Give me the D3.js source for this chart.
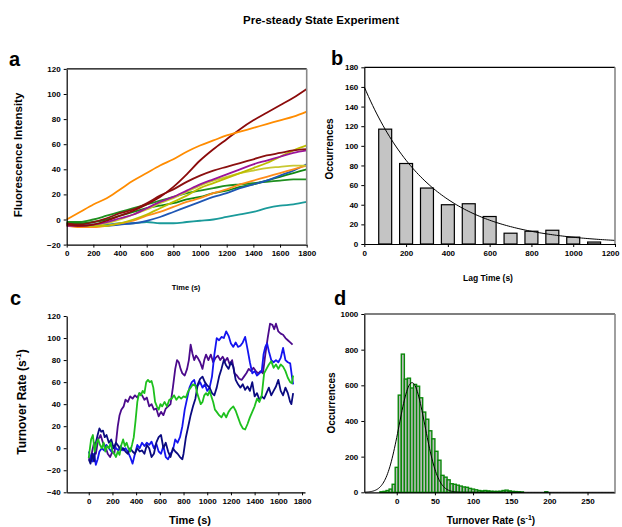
<!DOCTYPE html>
<html><head><meta charset="utf-8">
<script src="https://cdn.jsdelivr.net/npm/d3@7"></script>
<style>
body{margin:0;background:#fff;}
svg{display:block;font-family:"Liberation Sans",Arial,sans-serif;}
.tick text{font-weight:bold;fill:#000;}
</style></head>
<body><svg id="c" width="622" height="527"></svg>
<script>
// ---------- Panel a : fluorescence traces (value every 100 s) ----------
const aTime = [0,100,200,300,400,500,600,700,800,900,1000,1100,1200,1300,1400,1500,1600,1700,1800];
const aOrange1 = [0,6,12,17,24,31,37,43,48,54,59,63,67,70,73,76,79,82,86];
const aDarkRed1 = [-4,-5,-4,-1,3,7,12,18,26,36,47,56,64,72,79,85,91,97,104];
const aDarkRed2 = [-3,-4,-2,1,5,8,13,19,24,30,35,39,42,45,48,51,53,55,56];
const aMagenta = [-5,-5,-4,-2,1,4,9,14,18,23,28,32,36,40,44,47,50,53,55];
const aYellow1 = [-4,-5,-5,-5,-3,0,4,9,14,19,25,29,33,37,41,45,50,55,59];
const aYellow2 = [-4,-5,-5,-3,0,4,8,13,17,22,27,31,34,37,39,41,42,43,43];
const aOrange2 = [-5,-6,-6,-5,-3,-1,3,6,10,14,17,21,24,28,31,34,37,40,43];
const aBlue = [-4,-5,-5,-5,-4,-3,-1,2,6,10,14,18,21,25,28,31,35,39,44];
const aGreen1 = [-3,-3,-2,0,3,6,9,11,13,16,18,21,23,26,28,31,34,37,40];
const aGreen2 = [-2,-2,0,3,6,9,12,15,18,21,23,25,27,28,29,30,31,32,32];
const aTeal = [-3,-4,-4,-4,-3,-3,-2,-3,-3,-2,-1,0,2,4,6,9,11,12,14];
const aXTicks = [0,200,400,600,800,1000,1200,1400,1600,1800];
const aYTicks = [-20,0,20,40,60,80,100,120];

// ---------- Panel b : lag time histogram ----------
const bLag = [100,200,300,400,500,600,700,800,900,1000,1100];
const bCount = [117,82,57,40,41,28,11,13,14,7,2];
const bFitA = 160, bFitTau = 318;   // exponential fit parameters
const bXTicks = [0,200,400,600,800,1000,1200];
const bYTicks = [0,20,40,60,80,100,120,140,160,180];

// ---------- Panel c : turnover rate traces [time, rate] ----------
const cPurple = [[0,-8],[15,-12],[30,-2],[45,5],[60,-5],[80,8],[100,12],[120,5],[140,2],[160,-5],[180,-8],[200,-3],[215,-5],[230,5],[245,20],[260,30],[275,35],[295,38],[310,44],[330,42],[350,47],[370,45],[390,48],[410,46],[430,50],[450,48],[470,44],[490,46],[510,38],[530,40],[550,35],[570,36],[590,29],[610,33],[630,30],[650,36],[670,38],[690,40],[710,55],[730,72],[745,80],[760,78],[775,72],[790,68],[810,66],[830,72],[845,80],[860,94],[875,86],[890,80],[905,84],[920,82],[940,78],[960,72],[975,80],[990,85],[1010,80],[1030,85],[1050,78],[1070,82],[1090,84],[1110,80],[1130,83],[1150,79],[1170,82],[1190,76],[1210,80],[1230,68],[1250,66],[1270,63],[1290,62],[1310,65],[1330,68],[1350,72],[1370,70],[1390,73],[1410,70],[1430,68],[1450,70],[1470,68],[1490,85],[1510,100],[1530,113],[1550,112],[1565,108],[1580,113],[1600,106],[1620,104],[1640,103],[1660,100],[1680,98],[1700,96],[1720,94]];
const cBlue = [[0,-3],[15,-8],[30,-12],[45,-5],[60,-15],[75,-10],[90,-3],[110,0],[130,-2],[150,3],[170,0],[190,-3],[210,2],[230,0],[250,-2],[270,2],[290,-2],[310,0],[330,-3],[350,-8],[370,-14],[390,-5],[410,3],[430,0],[450,5],[470,2],[490,5],[510,3],[530,6],[550,0],[570,4],[590,-3],[610,-5],[630,2],[650,-8],[670,-10],[690,-5],[710,-2],[730,8],[750,5],[770,10],[790,20],[810,35],[830,45],[850,55],[870,60],[890,62],[905,55],[920,57],[940,60],[960,55],[980,58],[1000,52],[1020,55],[1040,65],[1060,85],[1080,100],[1100,98],[1120,101],[1140,100],[1160,106],[1180,102],[1200,95],[1220,92],[1240,96],[1260,92],[1280,93],[1300,96],[1320,101],[1340,90],[1360,78],[1380,68],[1400,70],[1420,66],[1440,68],[1460,70],[1475,85],[1490,92],[1505,95],[1520,88],[1540,80],[1560,78],[1580,80],[1600,78],[1620,82],[1640,91],[1660,80],[1680,78],[1700,77],[1715,65],[1725,58]];
const cNavy = [[0,-10],[15,-14],[30,-5],[45,-12],[60,5],[75,12],[90,18],[105,15],[120,16],[135,10],[150,12],[170,5],[190,8],[210,0],[230,5],[250,2],[270,-2],[290,0],[310,-3],[330,-5],[350,0],[370,-3],[390,-5],[410,0],[430,-3],[450,-2],[470,-5],[490,3],[510,0],[530,-8],[550,-5],[570,5],[590,10],[610,12],[630,0],[650,5],[670,-3],[690,-8],[710,0],[730,-3],[750,-5],[770,-8],[790,-10],[800,-5],[820,10],[840,20],[860,30],[880,38],[900,45],[920,58],[940,63],[960,65],[980,60],[1000,57],[1020,55],[1040,50],[1060,48],[1080,55],[1100,65],[1120,72],[1140,80],[1160,75],[1180,72],[1200,78],[1220,74],[1240,62],[1260,58],[1280,55],[1300,58],[1320,53],[1340,56],[1360,52],[1380,60],[1400,47],[1420,50],[1440,44],[1460,47],[1480,45],[1500,50],[1520,55],[1540,48],[1560,52],[1580,56],[1600,62],[1620,52],[1640,48],[1660,55],[1680,50],[1700,42],[1710,40],[1725,50]];
const cGreen = [[0,-9],[10,0],[20,8],[35,12],[50,-3],[65,5],[80,8],[95,3],[110,0],[125,5],[140,-3],[155,2],[170,0],[185,5],[200,-3],[215,-5],[230,-8],[245,-3],[260,-6],[275,3],[290,8],[305,2],[320,5],[335,0],[350,-3],[365,3],[380,10],[395,25],[410,42],[425,50],[440,48],[455,52],[470,50],[485,60],[500,62],[515,60],[530,61],[545,55],[560,42],[575,38],[590,35],[605,40],[620,38],[640,42],[660,38],[680,44],[700,45],[720,48],[740,44],[760,47],[780,45],[800,47],[820,46],[840,52],[860,55],[880,58],[900,57],[915,50],[930,45],[945,40],[960,42],[975,48],[990,50],[1005,48],[1020,52],[1035,47],[1050,42],[1065,35],[1080,33],[1100,30],[1120,28],[1140,32],[1160,28],[1180,33],[1200,36],[1220,38],[1240,34],[1260,28],[1280,22],[1300,18],[1320,17],[1340,22],[1360,28],[1380,33],[1400,38],[1420,45],[1440,42],[1460,48],[1470,58],[1480,68],[1500,72],[1520,76],[1540,79],[1560,73],[1580,76],[1600,72],[1620,76],[1640,74],[1660,70],[1680,64],[1700,60],[1715,59],[1725,66]];
const cXTicks = [0,200,400,600,800,1000,1200,1400,1600,1800];
const cYTicks = [-40,-20,0,20,40,60,80,100,120];

// ---------- Panel d : turnover rate histogram (bin width 4) ----------
const dBinStart = [-22,-18,-14,-10,-6,-2,2,6,10,14,18,22,26,30,34,38,42,46,50,54,58,62,66,70,74,78,82,86,90,94,98,102,106,110,114,118,122,126,130,134,138,142,146,150,154,158,162,194];
const dCount = [3,5,10,18,45,140,545,775,635,640,585,605,595,530,450,410,345,300,230,180,95,85,70,48,45,40,35,30,28,22,18,14,10,8,10,8,6,5,5,6,10,12,8,5,4,3,2,3];
const dBinWidth = 4;
const dFitA = 615, dFitMu = 20, dFitSigma = 17;   // gaussian fit parameters
const dXTicks = [0,50,100,150,200,250];
const dYTicks = [0,200,400,600,800,1000];

const svg = d3.select('#c');
svg.append('rect').attr('width',622).attr('height',527).attr('fill','#fff');
const F = '"Liberation Sans",Arial,sans-serif';
const fmt = d3.format('d');

svg.append('text').attr('x',321).attr('y',24).attr('text-anchor','middle')
  .attr('font-size',11.5).attr('font-weight','bold').text('Pre-steady State Experiment');

function axes(x, y, xt, yt, frame){
  const g = svg.append('g');
  g.append('g').attr('transform',`translate(0,${y.range()[0]})`)
    .call(d3.axisBottom(x).tickValues(xt).tickFormat(fmt).tickSize(3).tickSizeOuter(0).tickPadding(3))
    .call(s=>s.selectAll('text').attr('font-size',8).attr('font-family',F));
  g.append('g').attr('transform',`translate(${x.range()[0]},0)`)
    .call(d3.axisLeft(y).tickValues(yt).tickFormat(fmt).tickSize(3).tickSizeOuter(0).tickPadding(3))
    .call(s=>s.selectAll('text').attr('font-size',8).attr('font-family',F));
  g.selectAll('.domain').attr('stroke','#000').attr('stroke-width',1.2);
  if(frame){
    g.append('line').attr('x1',x.range()[0]).attr('x2',x.range()[1]).attr('y1',y.range()[1]).attr('y2',y.range()[1]).attr('stroke','#000').attr('stroke-width',1.2);
    g.append('line').attr('x1',x.range()[1]).attr('x2',x.range()[1]).attr('y1',y.range()[1]).attr('y2',y.range()[0]).attr('stroke','#888').attr('stroke-width',1.6);
  }
  return g;
}
function label(txt,x,y){
  svg.append('text').attr('x',x).attr('y',y).attr('font-size',20).attr('font-weight','bold').text(txt);
}
function ytitle(x,y,size,build){
  const t = svg.append('text').attr('transform',`translate(${x},${y}) rotate(-90)`).attr('text-anchor','middle')
    .attr('font-size',size).attr('font-weight','bold');
  build(t);
}
function xtitle(x,y,size,build){
  const t = svg.append('text').attr('x',x).attr('y',y).attr('text-anchor','middle')
    .attr('font-size',size).attr('font-weight','bold');
  build(t);
}

// ----- Panel a -----
{
  const x = d3.scaleLinear().domain([0,1800]).range([66.7,306.7]);
  const y = d3.scaleLinear().domain([-20,120]).range([244.6,68.9]);
  const series = [
    [aTeal,'#1a9a9a'],[aGreen2,'#1f8f1f'],[aGreen1,'#118811'],[aBlue,'#1f56b4'],[aOrange2,'#ff8c1a'],
    [aYellow2,'#c8c832'],[aYellow1,'#bdbd00'],[aMagenta,'#9b159b'],[aDarkRed2,'#8b1010'],[aDarkRed1,'#8b0a0a'],[aOrange1,'#ff8c00']];
  const line = d3.line().x((d,i)=>x(aTime[i])).y(d=>y(d)).curve(d3.curveMonotoneX);
  series.forEach(([v,c])=>svg.append('path').attr('d',line(v)).attr('fill','none').attr('stroke',c).attr('stroke-width',1.8));
  axes(x,y,aXTicks,aYTicks,true);
  label('a',9,66);
  ytitle(22,155,11.5,t=>t.text('Fluorescence Intensity'));
  xtitle(186,290,7.5,t=>t.text('Time (s)'));
}
// ----- Panel b -----
{
  const x = d3.scaleLinear().domain([0,1200]).range([364.3,615]);
  const y = d3.scaleLinear().domain([0,180]).range([244,67.3]);
  const bw = x(62)-x(0);
  svg.append('g').selectAll('rect').data(bLag).join('rect')
    .attr('x',(d)=>x(d)-bw/2).attr('width',bw)
    .attr('y',(d,i)=>y(bCount[i])).attr('height',(d,i)=>y(0)-y(bCount[i]))
    .attr('fill','#c4c4c4').attr('stroke','#000').attr('stroke-width',1.2);
  const fx = d3.range(0,1201,10);
  svg.append('path').attr('d',d3.line().x(d=>x(d)).y(d=>y(bFitA*Math.exp(-d/bFitTau)))(fx))
    .attr('fill','none').attr('stroke','#000').attr('stroke-width',1);
  const g = axes(x,y,bXTicks,bYTicks,true);
  // keep the last tick label inside the picture
  g.selectAll('.tick text').filter(d=>d===1200).attr('text-anchor','end').attr('dx','4');
  label('b',331,65);
  ytitle(333,149,10,t=>t.text('Occurrences'));
  xtitle(488,281,8.5,t=>t.text('Lag Time (s)'));
}
// ----- Panel c -----
{
  const x = d3.scaleLinear().domain([-186,1825]).range([66.7,305]);
  const y = d3.scaleLinear().domain([-40,120]).range([492.3,316]);
  const line = d3.line().x(d=>x(d[0])).y(d=>y(d[1]));
  [[cPurple,'#4b0a8c'],[cBlue,'#1414f0'],[cNavy,'#0a0a80'],[cGreen,'#1ec01e']].forEach(([v,c])=>
    svg.append('path').attr('d',line(v)).attr('fill','none').attr('stroke',c).attr('stroke-width',1.8).attr('stroke-linejoin','round'));
  axes(x,y,cXTicks,cYTicks,false);
  label('c',10,305);
  ytitle(26,402,12,t=>{t.append('tspan').text('Turnover Rate (s');t.append('tspan').attr('font-size',8).attr('dy',-5).text('-1');t.append('tspan').attr('dy',5).text(')');});
  xtitle(190,524,11,t=>t.text('Time (s)'));
}
// ----- Panel d -----
{
  const x = d3.scaleLinear().domain([-42.5,286]).range([364.3,615]);
  const y = d3.scaleLinear().domain([0,1000]).range([492.3,314]);
  svg.append('g').selectAll('rect').data(dBinStart).join('rect')
    .attr('x',d=>x(d)).attr('width',d=>x(d+dBinWidth)-x(d))
    .attr('y',(d,i)=>y(dCount[i])).attr('height',(d,i)=>y(0)-y(dCount[i]))
    .attr('fill','#bdbdbd').attr('stroke','#0a880a').attr('stroke-width',1.4);
  const fx = d3.range(-42,286,1);
  svg.append('path').attr('d',d3.line().x(d=>x(d)).y(d=>y(dFitA*Math.exp(-Math.pow(d-dFitMu,2)/(2*dFitSigma*dFitSigma))))(fx))
    .attr('fill','none').attr('stroke','#000').attr('stroke-width',1);
  axes(x,y,dXTicks,dYTicks,true);
  label('d',334,305);
  ytitle(335,403,10,t=>t.text('Occurrences'));
  xtitle(491,524,10,t=>{t.append('tspan').text('Turnover Rate (s');t.append('tspan').attr('font-size',7).attr('dy',-4).text('-1');t.append('tspan').attr('dy',4).text(')');});
}
</script></body></html>
